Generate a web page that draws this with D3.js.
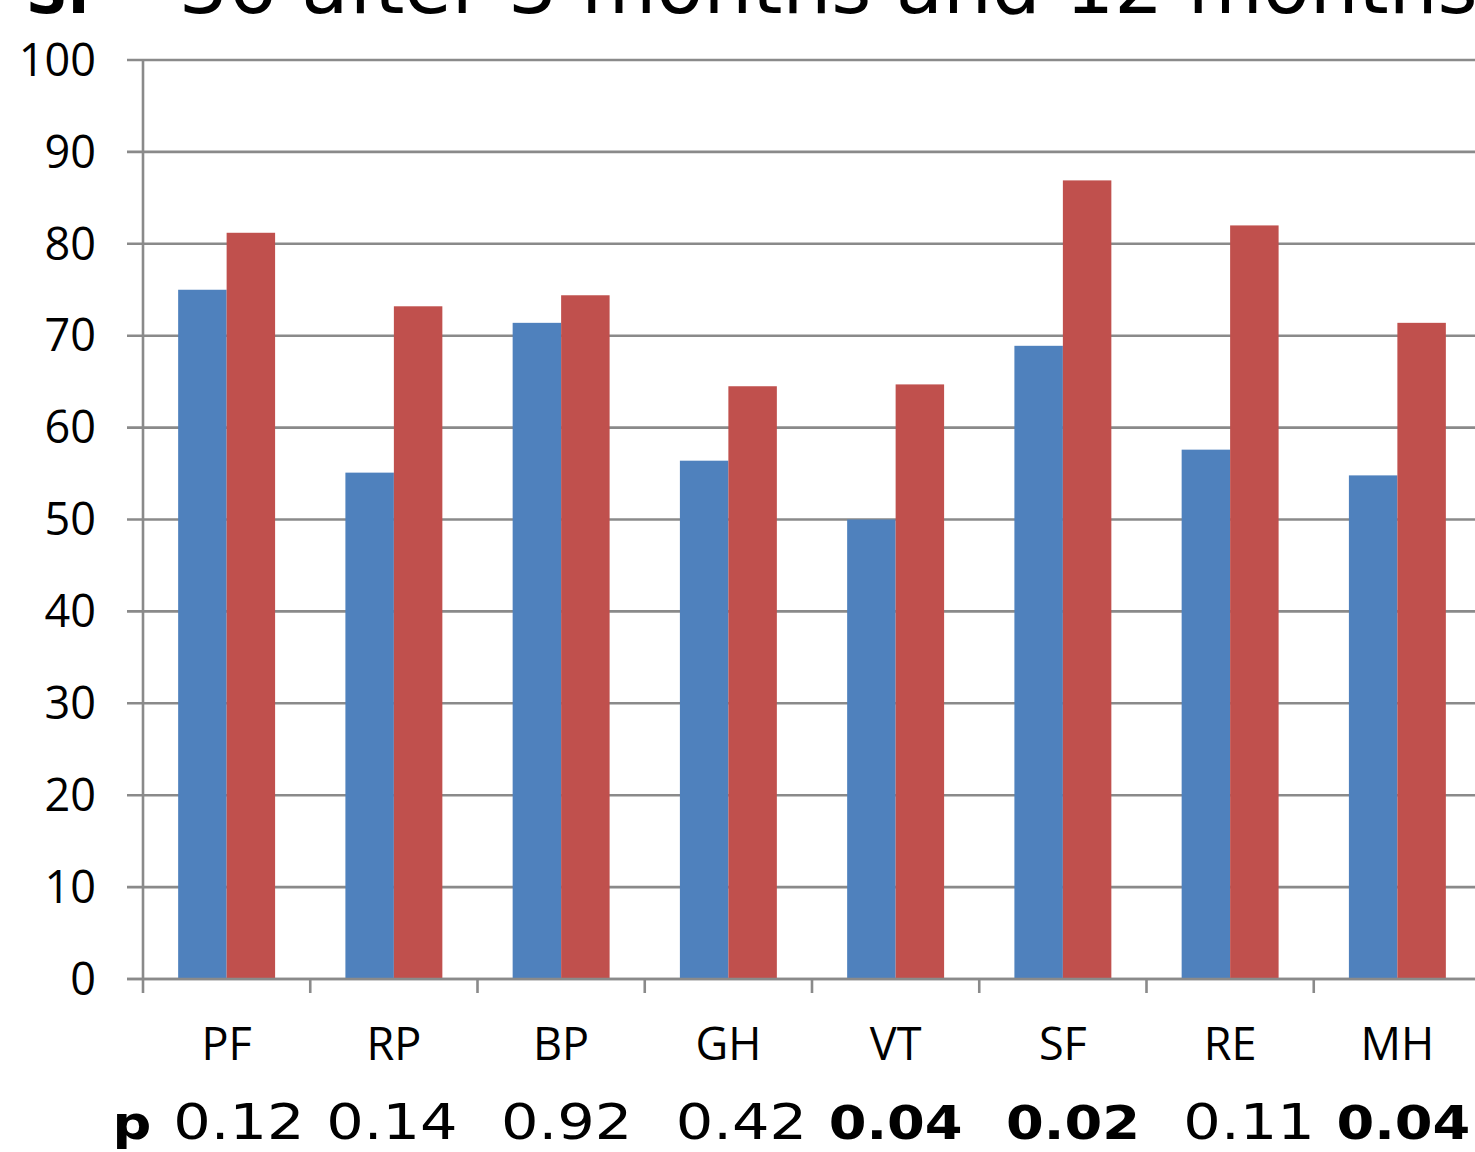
<!DOCTYPE html>
<html>
<head>
<meta charset="utf-8">
<script src="https://cdn.jsdelivr.net/npm/d3@7"></script>
<style>
  html, body { margin: 0; padding: 0; background: #fff; overflow: hidden; }
  svg { display: block; }
</style>
</head>
<body>
<svg id="chart" width="1475" height="1152"></svg>
<script>
const categories = ["PF", "RP", "BP", "GH", "VT", "SF", "RE", "MH"];
const seriesNames = ["3 months", "12 months"];
const after3Months = [75, 55.1, 71.4, 56.4, 50, 68.9, 57.6, 54.8];
const after12Months = [81.2, 73.2, 74.4, 64.5, 64.7, 86.9, 82, 71.4];
const pLabel = "p";
const pValues = ["0.12", "0.14", "0.92", "0.42", "0.04", "0.02", "0.11", "0.04"];
const pSignificant = [false, false, false, false, true, true, false, true];
const yTicks = [0, 10, 20, 30, 40, 50, 60, 70, 80, 90, 100];
const titleBold = "SF";
const titleRest = "-36 after 3 months and 12 months";

(function () {
const colors = ["#4F81BD", "#C0504D"];
const gridColor = "#8a8a8a";
// spacing (as typed in the original text box) before each p-value
const pSeparators = [" ", " ", "  ", "  ", " ", "  ", "  ", " "];

const svg = d3.select("#chart");
const plotLeft = 143, plotRight = 1481, plotTop = 60, plotBottom = 979;

const x = d3.scaleBand().domain(categories).range([plotLeft, plotRight]).padding(0);
const xSub = d3.scaleBand().domain(seriesNames).range([0, x.bandwidth()])
  .paddingInner(0).paddingOuter(0.725);
const y = d3.scaleLinear().domain([0, 100]).range([plotBottom, plotTop]);

// Title (cropped at top)
const title = svg.append("text")
  .attr("y", 13)
  .attr("font-family", "DejaVu Sans")
  .attr("font-size", 77)
  .attr("fill", "#000");
title.append("tspan").attr("x", 26).attr("font-weight", "bold").attr("font-size", 58).text(titleBold);
title.append("tspan").attr("x", 151).text(titleRest);

// Gridlines
svg.append("g")
  .selectAll("line")
  .data(yTicks)
  .join("line")
  .attr("x1", plotLeft - 16)
  .attr("x2", plotRight)
  .attr("y1", d => y(d))
  .attr("y2", d => y(d))
  .attr("stroke", gridColor)
  .attr("stroke-width", 2.6);

// Y tick labels
svg.append("g")
  .selectAll("text")
  .data(yTicks)
  .join("text")
  .attr("x", 96)
  .attr("y", d => y(d))
  .attr("dy", "0.35em")
  .attr("text-anchor", "end")
  .attr("font-family", "Open Sans")
  .attr("font-size", 45)
  .attr("fill", "#000")
  .text(d => d);

// Bars
const rows = categories.map((c, i) => ({ cat: c, vals: [after3Months[i], after12Months[i]] }));
const groups = svg.append("g")
  .selectAll("g")
  .data(rows)
  .join("g")
  .attr("transform", d => `translate(${x(d.cat)},0)`);
groups.selectAll("rect")
  .data(d => d.vals.map((v, j) => ({ key: seriesNames[j], v, j })))
  .join("rect")
  .attr("x", d => xSub(d.key))
  .attr("width", xSub.bandwidth())
  .attr("y", d => y(d.v))
  .attr("height", d => y(0) - y(d.v))
  .attr("fill", d => colors[d.j]);

// Y axis line
svg.append("line")
  .attr("x1", plotLeft).attr("x2", plotLeft)
  .attr("y1", y(100)).attr("y2", y(0) + 14)
  .attr("stroke", gridColor).attr("stroke-width", 2.6);

// X axis line and ticks
svg.append("line")
  .attr("x1", plotLeft - 16).attr("x2", plotRight)
  .attr("y1", y(0)).attr("y2", y(0))
  .attr("stroke", gridColor).attr("stroke-width", 2.6);
svg.append("g")
  .selectAll("line")
  .data(categories.slice(1))
  .join("line")
  .attr("x1", d => x(d)).attr("x2", d => x(d))
  .attr("y1", y(0)).attr("y2", y(0) + 14)
  .attr("stroke", gridColor).attr("stroke-width", 2.6);

// Category labels
svg.append("g")
  .selectAll("text")
  .data(categories)
  .join("text")
  .attr("x", d => x(d) + x.bandwidth() / 2)
  .attr("y", 1060)
  .attr("text-anchor", "middle")
  .attr("font-family", "Open Sans")
  .attr("font-size", 45)
  .attr("fill", "#000")
  .text(d => d);

// p-values row: one line of text, as in the original text box
const sx = 1.18;
const pText = svg.append("text")
  .attr("transform", `scale(${sx},1)`)
  .attr("x", 95.4)
  .attr("y", 1139)
  .attr("font-family", "DejaVu Sans")
  .attr("font-size", 50)
  .attr("word-spacing", 2.5)
  .attr("fill", "#000")
  .style("white-space", "pre");
pText.append("tspan").attr("font-weight", "bold").attr("font-size", 46).text(pLabel);
pValues.forEach((p, i) => {
  pText.append("tspan").text(pSeparators[i]);
  pText.append("tspan")
    .attr("font-weight", pSignificant[i] ? "bold" : "normal")
    .attr("font-size", pSignificant[i] ? 46 : 50)
    .text(p);
});
})();
</script>
</body>
</html>
